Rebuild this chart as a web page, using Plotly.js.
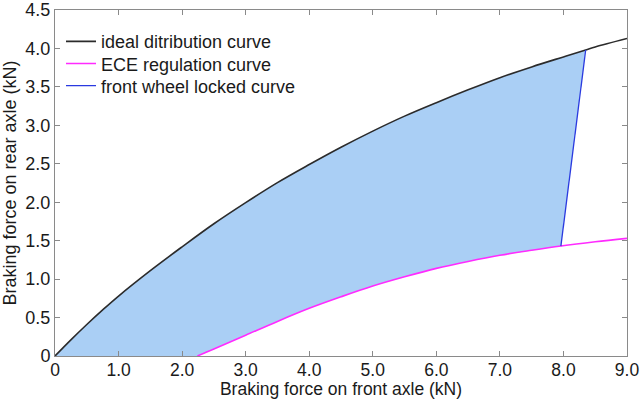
<!DOCTYPE html>
<html>
<head>
<meta charset="utf-8">
<script src="https://cdn.plot.ly/plotly-3.0.1.min.js"></script>
<style>html,body{margin:0;padding:0;background:#fff;}#chart{width:642px;height:399px;}</style>
</head>
<body>
<div id="chart"></div>
<script>
// Ideal distribution curve (front axle force kN, rear axle force kN)
const idealX = [0, 0.25, 0.5, 0.75, 1.0, 1.5, 2.0, 2.5, 3.0, 3.5, 4.0, 4.5, 5.0, 5.5, 6.0, 6.5, 7.0, 7.5, 8.0, 8.35, 8.5, 9.0];
const idealY = [0, 0.21, 0.41, 0.60, 0.78, 1.11, 1.42, 1.72, 1.995, 2.255, 2.49, 2.715, 2.925, 3.12, 3.295, 3.462, 3.62, 3.76, 3.89, 3.98, 4.02, 4.13];

// ECE regulation curve
const eceX = [2.24, 2.5, 3.0, 3.5, 4.0, 4.5, 5.0, 5.5, 6.0, 6.5, 7.0, 7.5, 7.96, 8.5, 9.0];
const eceY = [0, 0.09, 0.27, 0.45, 0.62, 0.77, 0.91, 1.03, 1.14, 1.23, 1.31, 1.375, 1.43, 1.485, 1.53];

// Front wheel locked curve
const lockX = [7.96, 8.35];
const lockY = [1.43, 3.98];

// Tick labels
const xTickVals = [0, 1, 2, 3, 4, 5, 6, 7, 8, 9];
const xTickText = ['0', '1.0', '2.0', '3.0', '4.0', '5.0', '6.0', '7.0', '8.0', '9.0'];
const yTickVals = [0, 0.5, 1, 1.5, 2, 2.5, 3, 3.5, 4, 4.5];
const yTickText = ['0', '0.5', '1.0', '1.5', '2.0', '2.5', '3.0', '3.5', '4.0', '4.5'];

// Build fill region: ideal curve up to the locked line, down the locked line, back along ECE curve
const fillX = [], fillY = [];
for (let i = 0; i < idealX.length; i++) {
  if (idealX[i] <= lockX[1]) { fillX.push(idealX[i]); fillY.push(idealY[i]); }
}
for (let i = eceX.length - 1; i >= 0; i--) {
  if (eceX[i] <= lockX[0]) { fillX.push(eceX[i]); fillY.push(eceY[i]); }
}
fillX.push(0); fillY.push(0);

const FONT = '"Liberation Sans", Arial, sans-serif';
const TXT = '#1a1a1a';
const AX = '#8a8a8a';

const traces = [
  {x: fillX, y: fillY, mode: 'lines', fill: 'toself', fillcolor: '#aacff5',
   line: {width: 0}, showlegend: false, hoverinfo: 'skip'},
  {x: idealX, y: idealY, mode: 'lines', name: 'ideal ditribution curve',
   line: {color: '#2b2b2b', width: 1.6, shape: 'spline'}, legend: 'legend'},
  {x: eceX, y: eceY, mode: 'lines', name: 'ECE regulation curve',
   line: {color: '#ff2bff', width: 1.6, shape: 'spline'}, legend: 'legend2'},
  {x: lockX, y: lockY, mode: 'lines', name: 'front wheel locked curve',
   line: {color: '#2a3ae0', width: 1.3}, legend: 'legend3'}
];

const legendBase = {
  x: 0.0105, xanchor: 'left', yanchor: 'top',
  bgcolor: 'rgba(0,0,0,0)', borderwidth: 0,
  font: {family: FONT, size: 18, color: TXT}
};

const layout = {
  width: 642, height: 399,
  margin: {l: 55, r: 15, t: 10, b: 43},
  paper_bgcolor: '#fff', plot_bgcolor: '#fff',
  font: {family: FONT, size: 18, color: TXT},
  showlegend: true,
  legend: Object.assign({}, legendBase, {y: 0.962}),
  legend2: Object.assign({}, legendBase, {y: 0.898}),
  legend3: Object.assign({}, legendBase, {y: 0.834}),
  xaxis: {
    range: [0, 9], tickvals: xTickVals, ticktext: xTickText,
    ticks: 'inside', ticklen: 5, tickcolor: AX, showline: true, linecolor: AX, linewidth: 1,
    mirror: 'ticks', showgrid: false, zeroline: false, ticklabelstandoff: -2,
    tickfont: {family: FONT, size: 17.5, color: TXT},
    title: {text: 'Braking force on front axle (kN)', font: {family: FONT, size: 17.5, color: TXT}, standoff: 13}
  },
  yaxis: {
    range: [0, 4.5], tickvals: yTickVals, ticktext: yTickText,
    ticks: 'inside', ticklen: 5, tickcolor: AX, showline: true, linecolor: AX, linewidth: 1,
    mirror: 'ticks', showgrid: false, zeroline: false,
    tickfont: {family: FONT, size: 18, color: TXT},
    title: {text: 'Braking force on rear axle (kN)', font: {family: FONT, size: 18, color: TXT}, standoff: 6}
  }
};

Plotly.newPlot('chart', traces, layout, {displayModeBar: false, staticPlot: true});
</script>
</body>
</html>
